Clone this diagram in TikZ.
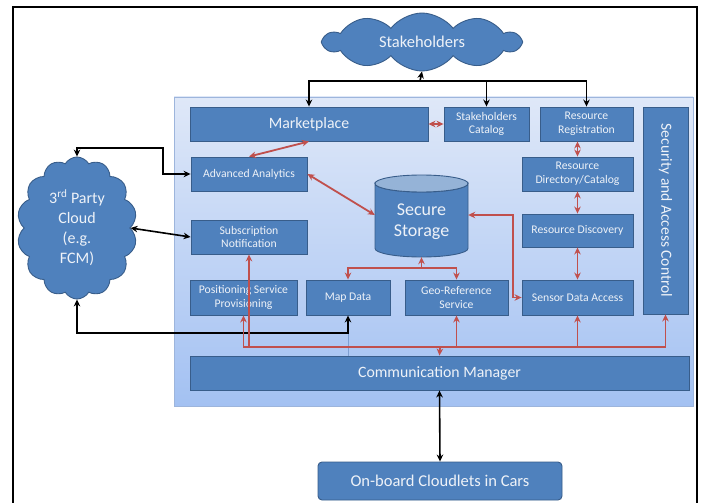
\documentclass[tikz,border=0pt]{standalone}
\usepackage{fontspec}
\setmainfont{Carlito}
\usetikzlibrary{shapes.symbols,arrows.meta}
\definecolor{boxfill}{HTML}{4F81BD}
\definecolor{boxdraw}{HTML}{385D8A}
\definecolor{redl}{HTML}{C0504D}
\definecolor{pantop}{HTML}{DFE8F8}
\definecolor{panbot}{HTML}{A3C1F2}
\definecolor{panedge}{HTML}{9DB5DC}
\definecolor{txt}{HTML}{EEF2F8}
\definecolor{cyltop}{HTML}{95B3D7}
\definecolor{faint}{HTML}{7E9FD2}
\begin{document}
\begin{tikzpicture}[x=1pt,y=-1pt,
  >={Stealth[length=7pt,width=6.5pt]},
  box/.style={draw=boxdraw, fill=boxfill, line width=0.9pt, text=txt, align=center,
    inner sep=1pt, font=\fontsize{11.7}{13.5}\selectfont},
  bigbox/.style={box, font=\fontsize{15.8}{18}\selectfont},
  cloudnode/.style={cloud, draw=boxdraw, fill=boxfill, line width=0.9pt, text=txt,
    align=center, cloud ignores aspect, inner sep=0pt},
  blk/.style={draw=black, line width=1.6pt},
  rd/.style={draw=redl, line width=1.8pt},
  panel/.style={draw=panedge, line width=0.8pt, top color=pantop, bottom color=panbot, inner sep=0pt}
]
\useasboundingbox (0,0) rectangle (702,503);
\fill[white] (0,0) rectangle (702,503);
% frame
\draw[line width=1.3pt] (13,510) -- (13,7) -- (697,7) -- (697,510);

% panel
\node[panel, minimum width=519pt, minimum height=309pt] (pn) at (433.5,251.5) {};

% clouds
\node[cloudnode, cloud puffs=10, cloud puff arc=105, minimum width=196pt, minimum height=58pt,
  font=\fontsize{16.5}{19}\selectfont] (sh) at (422,42) {Stakeholders};
\node[cloudnode, cloud puffs=14, cloud puff arc=120, minimum width=120pt, minimum height=142pt,
  font=\fontsize{16}{20}\selectfont] (tp) at (77,228) {3\textsuperscript{rd} Party\\Cloud\\(e.g.\\FCM)};

% boxes
\node[bigbox, minimum width=238pt, minimum height=34pt] (mk) at (309,124) {Marketplace};
\node[box, minimum width=85pt, minimum height=34pt] (sc) at (486.5,124) {Stakeholders\\Catalog};
\node[box, minimum width=93pt, minimum height=34pt] (rr) at (586.5,124) {Resource\\Registration};
\node[box, rotate=-90, minimum width=207pt, minimum height=45pt, font=\fontsize{15.5}{17}\selectfont] (sac) at (665.5,210.5) {Security and Access Control};
\node[box, minimum width=116pt, minimum height=34pt] (aa) at (249,174) {Advanced Analytics};
\node[box, minimum width=111pt, minimum height=34pt] (rdc) at (577.5,174) {Resource\\Directory/Catalog};
\node[box, minimum width=116pt, minimum height=34pt] (sn) at (249,237) {Subscription\\Notification};
\node[box, minimum width=111pt, minimum height=33pt] (rdi) at (577.5,230.5) {Resource Discovery};
\node[box, minimum width=107pt, minimum height=35pt] (psp) at (243.5,297.5) {Positioning Service\\Provisioning};
\node[box, minimum width=84pt, minimum height=35pt] (md) at (348,297.5) {Map Data};
\node[box, minimum width=103pt, minimum height=35pt] (grs) at (456.5,297.5) {Geo-Reference\\Service};
\node[box, minimum width=111pt, minimum height=35pt] (sda) at (577.5,297.5) {Sensor Data Access};
\node[bigbox, minimum width=499pt, minimum height=34pt] (cm) at (439.5,373) {Communication Manager};
\node[bigbox, rounded corners=4pt, minimum width=244pt, minimum height=38pt, font=\fontsize{16.5}{18}\selectfont] (ob) at (440,481) {On-board Cloudlets in Cars};

% secure storage cylinder
\filldraw[fill=boxfill, draw=boxdraw, line width=0.9pt] (375,183.5) -- (375,248.5)
  arc[start angle=180, end angle=0, x radius=46.5, y radius=8.5] -- (468,183.5)
  arc[start angle=0, end angle=180, x radius=46.5, y radius=8.5] -- cycle;
\filldraw[fill=cyltop, draw=boxdraw, line width=0.9pt] (421.5,183.5) ellipse[x radius=46.5, y radius=8.5];
\node[minimum width=93pt, minimum height=82pt, inner sep=0pt] (ss) at (421.5,216) {};
\node[text=txt, align=center, font=\fontsize{18}{21}\selectfont] (sst) at (421.5,222) {Secure\\Storage};

% helper coordinates
\coordinate (bus) at (420,81);
\coordinate (k1) at (163,148);
\coordinate (k2) at (348,333);
\coordinate (k3) at (513,216);
\coordinate (k4) at (421.5,268);
\coordinate (k5) at (440,347);

% black connectors
\draw[blk,<->] (mk.north) |- (bus) -| (rr.north);
\draw[blk,->] (bus) -- (sh.south);
\draw[blk,->] (sc.north |- bus) -- (sc.north);
\draw[blk,<->] (tp.north) |- (k1) |- (aa.west);
\draw[blk,<->] (tp.east) -- (sn.west);
\draw[draw=faint, line width=0.6pt] (k2) -- (cm.north -| k2);
\draw[blk,<->] (tp.south) |- (k2) -- (md.south);
\draw[blk,<->] (cm.south) -- (ob.north);

% red connectors
\draw[rd,<->] (mk.east) -- (sc.west);
\draw[rd,<->] (mk.south) -- (aa.north);
\draw[rd,<->] (aa.east) -- ([yshift=1pt]ss.west);
\draw[rd,<->] (rdc.north |- rr.south) -- (rdc.north);
\draw[rd,<->] (rdc.south) -- (rdi.north);
\draw[rd,<->] (rdi.south) -- (sda.north);
\draw[rd,<->] ([yshift=1pt]ss.east) -- ([yshift=1pt]k3) |- (sda.west);
\draw[rd,<->] (md.north) |- (k4) -| (grs.north);
\draw[rd,->] (k4) -- (ss.south);
\draw[rd,->] (k5) -- (cm.north);
\draw[rd,->] (k5) -| (psp.south);
\draw[rd,->] (k5) -| (sn.south);
\draw[rd,->] (k5) -| (grs.south);
\draw[rd,->] (k5) -| (sda.south);
\draw[rd,->] (k5) -| (sac.east);
\end{tikzpicture}
\end{document}
